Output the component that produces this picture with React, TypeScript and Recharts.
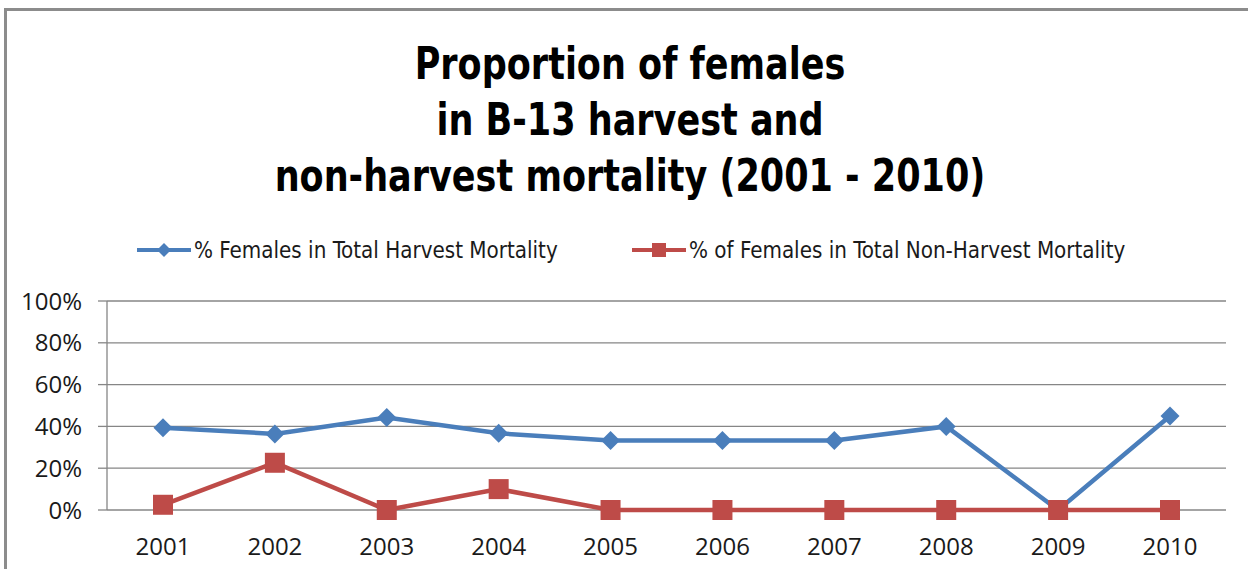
import { LineChart, Line, XAxis, YAxis, CartesianGrid } from "recharts";

const years = ["2001", "2002", "2003", "2004", "2005", "2006", "2007", "2008", "2009", "2010"];
const harvestPct = [39.4, 36.4, 44.2, 36.7, 33.3, 33.3, 33.3, 40, 0, 45];
const nonHarvestPct = [2.5, 22.6, 0, 10, 0, 0, 0, 0, 0, 0];
const yTicks = [0, 20, 40, 60, 80, 100];

const titleLines = ["Proportion of females", "in B-13 harvest and", "non-harvest mortality (2001 - 2010)"];
const harvestLabel = "% Females in Total Harvest Mortality";
const nonHarvestLabel = "% of Females in Total Non-Harvest Mortality";

const blue = "#4a7ebb";
const red = "#be4b48";
const gridColor = "#868686";
const narrow = '"Liberation Sans Narrow", "DejaVu Sans Condensed", sans-serif';
const tickFont = '"Open Sans", "Liberation Sans", sans-serif';

const data = years.map((year, i) => ({
  year,
  harvest: harvestPct[i],
  nonHarvest: nonHarvestPct[i],
}));

function Diamond(props: any) {
  const { cx, cy } = props;
  if (cx == null || cy == null) return null;
  const r = 9.5;
  return (
    <path
      d={`M${cx},${cy - r} L${cx + r},${cy} L${cx},${cy + r} L${cx - r},${cy} Z`}
      fill={blue}
    />
  );
}

function Square(props: any) {
  const { cx, cy } = props;
  if (cx == null || cy == null) return null;
  const s = 10;
  return <rect x={cx - s} y={cy - s} width={s * 2} height={s * 2} fill={red} />;
}

function LegendItem({ color, label, square }: { color: string; label: string; square?: boolean }) {
  return (
    <div style={{ display: "flex", alignItems: "center" }}>
      <svg width={54} height={20}>
        <line x1={0} y1={10} x2={54} y2={10} stroke={color} strokeWidth={4} />
        {square ? (
          <rect x={20} y={3} width={14} height={14} fill={color} />
        ) : (
          <path d="M27,3 L34,10 L27,17 L20,10 Z" fill={color} />
        )}
      </svg>
      <span style={{ marginLeft: 3, fontSize: 22.2, color: "#1a1a1a", fontFamily: narrow }}>{label}</span>
    </div>
  );
}

export default function App() {
  return (
    <div style={{ position: "relative", width: 1248, height: 569, background: "#fff", overflow: "hidden" }}>
      <style>{`body{margin:0;}`}</style>
      <div
        style={{
          position: "absolute",
          left: 4,
          top: 8,
          width: 1260,
          height: 580,
          borderTop: "3px solid #8c8c8c",
          borderLeft: "3px solid #8c8c8c",
          boxSizing: "border-box",
        }}
      />
      <div
        style={{
          position: "absolute",
          left: 0,
          top: 36,
          width: 1260,
          textAlign: "center",
          fontFamily: narrow,
          fontWeight: "bold",
          fontSize: 44,
          lineHeight: "56px",
          color: "#000",
          transform: "scaleX(0.885)",
          transformOrigin: "630px 0",
        }}
      >
        {titleLines.map((t) => (
          <div key={t}>{t}</div>
        ))}
      </div>
      <div style={{ position: "absolute", left: 137, top: 237 }}>
        <LegendItem color={blue} label={harvestLabel} />
      </div>
      <div style={{ position: "absolute", left: 632, top: 237 }}>
        <LegendItem color={red} label={nonHarvestLabel} square />
      </div>
      <div style={{ position: "absolute", left: 0, top: 0 }}>
        <LineChart
          width={1248}
          height={569}
          data={data}
          margin={{ top: 301, right: 22, bottom: 0, left: 0 }}
        >
          <CartesianGrid vertical={false} stroke={gridColor} strokeWidth={1.3} />
          <XAxis
            dataKey="year"
            height={59}
            padding={{ left: 56, right: 56 }}
            axisLine={false}
            tickLine={false}
            tick={{ fontSize: 24, fill: "#1a1a1a", fontFamily: tickFont }}
            tickMargin={22}
          />
          <YAxis
            width={107}
            domain={[0, 100]}
            ticks={yTicks}
            tickFormatter={(v: number) => `${v}%`}
            axisLine={{ stroke: gridColor, strokeWidth: 1.3 }}
            tickLine={{ stroke: gridColor, strokeWidth: 1.3 }}
            tickSize={9}
            tick={{ fontSize: 24, fill: "#1a1a1a", fontFamily: tickFont }}
            tickMargin={16}
          />
          <Line
            type="linear"
            dataKey="harvest"
            stroke={blue}
            strokeWidth={4.5}
            dot={<Diamond />}
            activeDot={false}
            isAnimationActive={false}
          />
          <Line
            type="linear"
            dataKey="nonHarvest"
            stroke={red}
            strokeWidth={4.5}
            dot={<Square />}
            activeDot={false}
            isAnimationActive={false}
          />
        </LineChart>
      </div>
    </div>
  );
}
